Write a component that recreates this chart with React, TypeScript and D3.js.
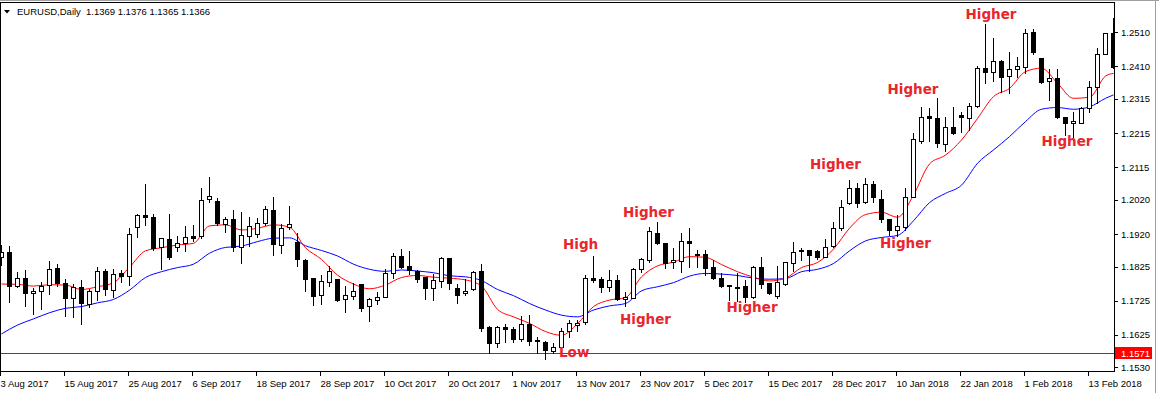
import React from 'react';
import * as d3 from 'd3';

const W = 1159;
const H = 393;

// OHLC values per daily bar (bar 0 = 3 Aug 2017 ... bar 139 = 16 Feb 2018)
const opens = [
  1.1852, 1.1867, 1.1769, 1.1791, 1.1747, 1.1753, 1.1770, 1.1820, 1.1776, 1.1732,
  1.1764, 1.1717, 1.1754, 1.1811, 1.1756, 1.1805, 1.1796, 1.1942, 1.1976, 1.1970,
  1.1881, 1.1905, 1.1881, 1.1893, 1.1913, 1.1913, 1.2022, 1.2016, 1.1949, 1.1963,
  1.1881, 1.1914, 1.1919, 1.1951, 1.1989, 1.1888, 1.1940, 1.1897, 1.1844, 1.1791,
  1.1741, 1.1781, 1.1789, 1.1729, 1.1738, 1.1773, 1.1709, 1.1726, 1.1737, 1.1805,
  1.1856, 1.1826, 1.1811, 1.1794, 1.1761, 1.1784, 1.1850, 1.1762, 1.1747, 1.1758,
  1.1813, 1.1648, 1.1602, 1.1648, 1.1641, 1.1613, 1.1656, 1.1610, 1.1603, 1.1579,
  1.1591, 1.1636, 1.1653, 1.1664, 1.1793, 1.1788, 1.1766, 1.1785, 1.1729, 1.1734,
  1.1817, 1.1844, 1.1922, 1.1893, 1.1837, 1.1842, 1.1900, 1.1862, 1.1862, 1.1823,
  1.1791, 1.1771, 1.1764, 1.1768, 1.1737, 1.1823, 1.1776, 1.1740, 1.1774, 1.1834,
  1.1871, 1.1872, 1.1871, 1.1854, 1.1886, 1.1937, 1.2010, 1.2056, 1.2013, 1.2066,
  1.2024, 1.1964, 1.1932, 1.1941, 1.2029, 1.2193, 1.2265, 1.2258, 1.2183, 1.2234,
  1.2268, 1.2258, 1.2294, 1.2407, 1.2393, 1.2426, 1.2382, 1.2402, 1.2409, 1.2510,
  1.2434, 1.2367, 1.2375, 1.2261, 1.2244, 1.2246, 1.2290, 1.2351, 1.2448, 1.2507,
];
const highs = [
  1.1891, 1.1887, 1.1812, 1.1819, 1.1764, 1.1783, 1.1844, 1.1834, 1.1791, 1.1776,
  1.1789, 1.1761, 1.1827, 1.1820, 1.1820, 1.1817, 1.1942, 1.1983, 1.2068, 1.1981,
  1.1912, 1.1981, 1.1917, 1.1948, 1.1949, 1.2059, 1.2090, 1.2027, 1.1974, 1.1992,
  1.1987, 1.1973, 1.1971, 1.2005, 1.2031, 1.1951, 1.2004, 1.1925, 1.1849, 1.1795,
  1.1803, 1.1831, 1.1792, 1.1770, 1.1781, 1.1776, 1.1737, 1.1754, 1.1822, 1.1867,
  1.1878, 1.1873, 1.1817, 1.1795, 1.1805, 1.1856, 1.1854, 1.1776, 1.1791, 1.1815,
  1.1835, 1.1653, 1.1653, 1.1659, 1.1652, 1.1682, 1.1687, 1.1622, 1.1610, 1.1605,
  1.1649, 1.1672, 1.1672, 1.1803, 1.1858, 1.1797, 1.1819, 1.1804, 1.1754, 1.1823,
  1.1852, 1.1944, 1.1957, 1.1895, 1.1881, 1.1927, 1.1940, 1.1876, 1.1876, 1.1846,
  1.1810, 1.1773, 1.1808, 1.1788, 1.1831, 1.1857, 1.1778, 1.1831, 1.1842, 1.1900,
  1.1883, 1.1874, 1.1875, 1.1908, 1.1959, 1.2024, 1.2080, 1.2073, 1.2086, 1.2078,
  1.2051, 1.1966, 1.1980, 1.2058, 1.2219, 1.2294, 1.2292, 1.2322, 1.2265, 1.2294,
  1.2281, 1.2307, 1.2414, 1.2536, 1.2497, 1.2431, 1.2455, 1.2441, 1.2522, 1.2522,
  1.2436, 1.2405, 1.2405, 1.2263, 1.2281, 1.2294, 1.2370, 1.2468, 1.2510, 1.2556,
];
const lows = [
  1.1830, 1.1722, 1.1766, 1.1711, 1.1685, 1.1700, 1.1746, 1.1769, 1.1681, 1.1678,
  1.1658, 1.1708, 1.1727, 1.1741, 1.1737, 1.1781, 1.1770, 1.1912, 1.1946, 1.1873,
  1.1818, 1.1848, 1.1871, 1.1870, 1.1900, 1.1909, 1.2013, 1.1947, 1.1925, 1.1870,
  1.1834, 1.1885, 1.1912, 1.1947, 1.1859, 1.1864, 1.1934, 1.1828, 1.1754, 1.1714,
  1.1717, 1.1768, 1.1725, 1.1693, 1.1731, 1.1696, 1.1667, 1.1717, 1.1735, 1.1793,
  1.1820, 1.1802, 1.1779, 1.1731, 1.1726, 1.1766, 1.1760, 1.1719, 1.1743, 1.1756,
  1.1637, 1.1571, 1.1591, 1.1603, 1.1603, 1.1608, 1.1595, 1.1573, 1.1554, 1.1573,
  1.1589, 1.1618, 1.1636, 1.1656, 1.1781, 1.1752, 1.1754, 1.1727, 1.1710, 1.1732,
  1.1810, 1.1837, 1.1891, 1.1822, 1.1822, 1.1810, 1.1825, 1.1825, 1.1800, 1.1789,
  1.1766, 1.1727, 1.1725, 1.1722, 1.1732, 1.1761, 1.1745, 1.1732, 1.1771, 1.1811,
  1.1844, 1.1813, 1.1847, 1.1852, 1.1883, 1.1932, 1.2008, 1.1998, 1.2012, 1.2015,
  1.1956, 1.1917, 1.1914, 1.1932, 1.2027, 1.2187, 1.2193, 1.2175, 1.2164, 1.2214,
  1.2219, 1.2224, 1.2292, 1.2363, 1.2368, 1.2336, 1.2333, 1.2380, 1.2390, 1.2446,
  1.2361, 1.2312, 1.2258, 1.2210, 1.2205, 1.2244, 1.2278, 1.2302, 1.2446, 1.2405,
];
const closes = [
  1.1867, 1.1769, 1.1791, 1.1747, 1.1755, 1.1767, 1.1817, 1.1776, 1.1732, 1.1764,
  1.1719, 1.1755, 1.1811, 1.1758, 1.1802, 1.1796, 1.1919, 1.1976, 1.1969, 1.1879,
  1.1908, 1.1854, 1.1893, 1.1910, 1.1909, 1.2019, 1.2031, 1.1951, 1.1963, 1.1881,
  1.1916, 1.1943, 1.1951, 1.1992, 1.1890, 1.1937, 1.1950, 1.1846, 1.1788, 1.1739,
  1.1783, 1.1812, 1.1728, 1.1741, 1.1755, 1.1705, 1.1729, 1.1735, 1.1806, 1.1855,
  1.1823, 1.1814, 1.1790, 1.1763, 1.1786, 1.1850, 1.1776, 1.1743, 1.1755, 1.1809,
  1.1646, 1.1602, 1.1648, 1.1641, 1.1614, 1.1657, 1.1606, 1.1606, 1.1581, 1.1589,
  1.1638, 1.1661, 1.1661, 1.1793, 1.1786, 1.1766, 1.1785, 1.1729, 1.1736, 1.1818,
  1.1846, 1.1929, 1.1893, 1.1836, 1.1844, 1.1901, 1.1893, 1.1860, 1.1822, 1.1791,
  1.1768, 1.1769, 1.1761, 1.1737, 1.1823, 1.1773, 1.1747, 1.1779, 1.1837, 1.1868,
  1.1872, 1.1858, 1.1854, 1.1883, 1.1939, 1.1998, 1.2054, 1.2010, 1.2066, 1.2027,
  1.1963, 1.1932, 1.1944, 1.2029, 1.2197, 1.2261, 1.2258, 1.2185, 1.2234, 1.2216,
  1.2261, 1.2295, 1.2407, 1.2395, 1.2427, 1.2380, 1.2402, 1.2412, 1.2507, 1.2453,
  1.2366, 1.2375, 1.2261, 1.2246, 1.2251, 1.2290, 1.2351, 1.2448, 1.2507, 1.2409,
];

// time axis labels (every 8th bar)
const dateLabels = [
  '3 Aug 2017', '15 Aug 2017', '25 Aug 2017', '6 Sep 2017', '18 Sep 2017', '28 Sep 2017',
  '10 Oct 2017', '20 Oct 2017', '1 Nov 2017', '13 Nov 2017', '23 Nov 2017', '5 Dec 2017',
  '15 Dec 2017', '28 Dec 2017', '10 Jan 2018', '22 Jan 2018', '1 Feb 2018', '13 Feb 2018',
];
const dateLabelBars = [0, 8, 16, 24, 32, 40, 48, 56, 64, 72, 80, 88, 96, 104, 112, 120, 128, 136];

const priceTicks = [1.2510, 1.2410, 1.2315, 1.2215, 1.2115, 1.2020, 1.1920, 1.1825, 1.1725, 1.1625, 1.1530];

// moving averages, read every second bar
const maBars = [
  0, 2, 4, 6, 8, 10, 12, 14, 16, 18, 20, 22, 24, 26, 28, 30, 32, 34, 36, 38,
  40, 42, 44, 46, 48, 50, 52, 54, 56, 58, 60, 62, 64, 66, 68, 70, 72, 74, 76, 78,
  80, 82, 84, 86, 88, 90, 92, 94, 96, 98, 100, 102, 104, 106, 108, 110, 112, 114, 116, 118,
  120, 122, 124, 126, 128, 130, 132, 134, 136, 138, 139,
];
const maRed = [
  1.1774, 1.1773, 1.1768, 1.1772, 1.1771, 1.1758, 1.1766, 1.1778, 1.1823, 1.1871,
  1.1880, 1.1888, 1.1893, 1.1944, 1.1947, 1.1932, 1.1937, 1.1947, 1.1940, 1.1880,
  1.1846, 1.1800, 1.1774, 1.1760, 1.1771, 1.1793, 1.1799, 1.1794, 1.1791, 1.1786,
  1.1768, 1.1700, 1.1678, 1.1659, 1.1635, 1.1624, 1.1658, 1.1708, 1.1727, 1.1734,
  1.1795, 1.1827, 1.1838, 1.1854, 1.1852, 1.1831, 1.1810, 1.1794, 1.1783, 1.1791,
  1.1822, 1.1837, 1.1876, 1.1937, 1.1977, 1.1984, 1.1969, 1.2034, 1.2125, 1.2151,
  1.2195, 1.2258, 1.2322, 1.2346, 1.2395, 1.2405, 1.2361, 1.2317, 1.2320, 1.2382,
  1.2390,
];
const maBlue = [
  1.1628, 1.1654, 1.1672, 1.1690, 1.1703, 1.1708, 1.1719, 1.1729, 1.1756, 1.1793,
  1.1810, 1.1822, 1.1832, 1.1864, 1.1881, 1.1885, 1.1898, 1.1908, 1.1909, 1.1886,
  1.1872, 1.1856, 1.1832, 1.1817, 1.1811, 1.1815, 1.1812, 1.1807, 1.1798, 1.1795,
  1.1784, 1.1758, 1.1740, 1.1717, 1.1698, 1.1683, 1.1678, 1.1698, 1.1710, 1.1717,
  1.1754, 1.1766, 1.1778, 1.1797, 1.1805, 1.1803, 1.1799, 1.1791, 1.1788, 1.1790,
  1.1810, 1.1817, 1.1834, 1.1871, 1.1900, 1.1910, 1.1916, 1.1959, 1.2012, 1.2039,
  1.2063, 1.2127, 1.2166, 1.2205, 1.2249, 1.2285, 1.2290, 1.2285, 1.2292, 1.2317,
  1.2327,
];

const supportLevel = 1.1571;

const titleSymbol = 'EURUSD,Daily';
const titleQuote = '1.1369 1.1376 1.1365 1.1366';

// annotation anchors in data space (bar index, price at baseline)
const annoTexts = ['High', 'Higher', 'Higher', 'Higher', 'Low', 'Higher', 'Higher', 'Higher', 'Higher', 'Higher'];
const annoBars = [70.19, 77.69, 77.31, 90.63, 69.69, 101.06, 110.75, 109.81, 120.5, 130.0];
const annoPrices = [1.1876, 1.1971, 1.1657, 1.1692, 1.1561, 1.2110, 1.2330, 1.1879, 1.2549, 1.2179];

const FONT = "'Liberation Sans', Arial, sans-serif";

export default function App() {
  const plotRight = 1114.5;
  const plotBottom = 371.5;
  const plotTop = 2.5;

  const x = d3.scaleLinear().domain([0, 139]).range([1.5, 1113.5]);
  const y = d3.scaleLinear().domain([1.1530, 1.2510]).range([367.46, 32.3]);
  const py = (v: number) => Math.round(y(v)) + 0.5;

  const redPts: [number, number][] = maBars.map((b, i) => [x(b), y(maRed[i])]);
  const bluePts: [number, number][] = maBars.map((b, i) => [x(b), y(maBlue[i])]);
  const lineGen = d3.line().curve(d3.curveMonotoneX);

  const candles = opens.map((o, i) => {
    const c = closes[i];
    const cx = x(i);
    const top = py(Math.max(o, c));
    const bot = py(Math.min(o, c));
    const bull = c >= o;
    return (
      <g key={i}>
        <line x1={cx} x2={cx} y1={py(highs[i])} y2={py(lows[i])} stroke="#000" strokeWidth={1} />
        {bot - top >= 1 ? (
          <rect x={cx - 2} y={top} width={4} height={bot - top} fill={bull ? '#fff' : '#000'} stroke="#000" strokeWidth={1} />
        ) : (
          <line x1={cx - 2.5} x2={cx + 2.5} y1={top} y2={top} stroke="#000" strokeWidth={1} />
        )}
      </g>
    );
  });

  const sy = py(supportLevel);

  return (
    <div style={{ position: 'absolute', left: 0, top: 0 }}>
      <svg width={W} height={H} style={{ display: 'block', background: '#fff' }} shapeRendering="crispEdges">
        <defs>
          <clipPath id="plotclip">
            <rect x={0} y={plotTop} width={plotRight} height={plotBottom - plotTop} />
          </clipPath>
        </defs>
        <rect x={0} y={0} width={W} height={H} fill="#fff" />
        {/* outer window lines */}
        <line x1={0} x2={W} y1={0.5} y2={0.5} stroke="#a0a0a0" />
        <line x1={1155.5} x2={1155.5} y1={0} y2={H} stroke="#a0a0a0" />

        <g clipPath="url(#plotclip)">
          <line x1={0} x2={plotRight} y1={sy} y2={sy} stroke="#ff0000" strokeWidth={1} />
          <path d={lineGen(bluePts) || ''} fill="none" stroke="#0000ff" strokeWidth={1} shapeRendering="auto" />
          <path d={lineGen(redPts) || ''} fill="none" stroke="#ff0000" strokeWidth={1} shapeRendering="auto" />
          {candles}
        </g>

        {/* frame */}
        <rect x={0.5} y={plotTop} width={plotRight - 0.5} height={plotBottom - plotTop} fill="none" stroke="#000" />

        {/* right price axis */}
        {priceTicks.map((p) => (
          <g key={p}>
            <line x1={plotRight} x2={plotRight + 3} y1={py(p)} y2={py(p)} stroke="#000" />
            <text x={1121} y={y(p) + 3.5} fontFamily={FONT} fontSize={9.5} fill="#000" shapeRendering="auto">
              {p.toFixed(4)}
            </text>
          </g>
        ))}
        <rect x={1115} y={sy - 6.5} width={37} height={12} fill="#ff0000" />
        <text x={1121} y={sy + 3} fontFamily={FONT} fontSize={9.5} fill="#fff">
          {supportLevel.toFixed(4)}
        </text>

        {/* time axis */}
        {dateLabelBars.map((b, i) => (
          <g key={b}>
            <line x1={x(b) - 1} x2={x(b) - 1} y1={plotBottom} y2={plotBottom + 4} stroke="#000" />
            <text x={x(b) - 1} y={387} fontFamily={FONT} fontSize={9.5} fill="#000">
              {dateLabels[i]}
            </text>
          </g>
        ))}

        {/* title */}
        <path d="M4,10 L10,10 L7,13.5 Z" fill="#000" shapeRendering="auto" />
        <text x={17} y={15} fontFamily={FONT} fontSize={9.5} fill="#000">{titleSymbol}</text>
        <text x={86} y={15} fontFamily={FONT} fontSize={9.5} fill="#000">{titleQuote}</text>

        {/* annotations */}
        {annoTexts.map((t, i) => (
          <text
            key={i}
            x={x(annoBars[i])}
            y={y(annoPrices[i])}
            fontFamily="'DejaVu Sans', sans-serif"
            fontWeight="bold"
            fontSize={13.5}
            fill="#e8262b"
          >
            {t}
          </text>
        ))}
      </svg>
    </div>
  );
}
